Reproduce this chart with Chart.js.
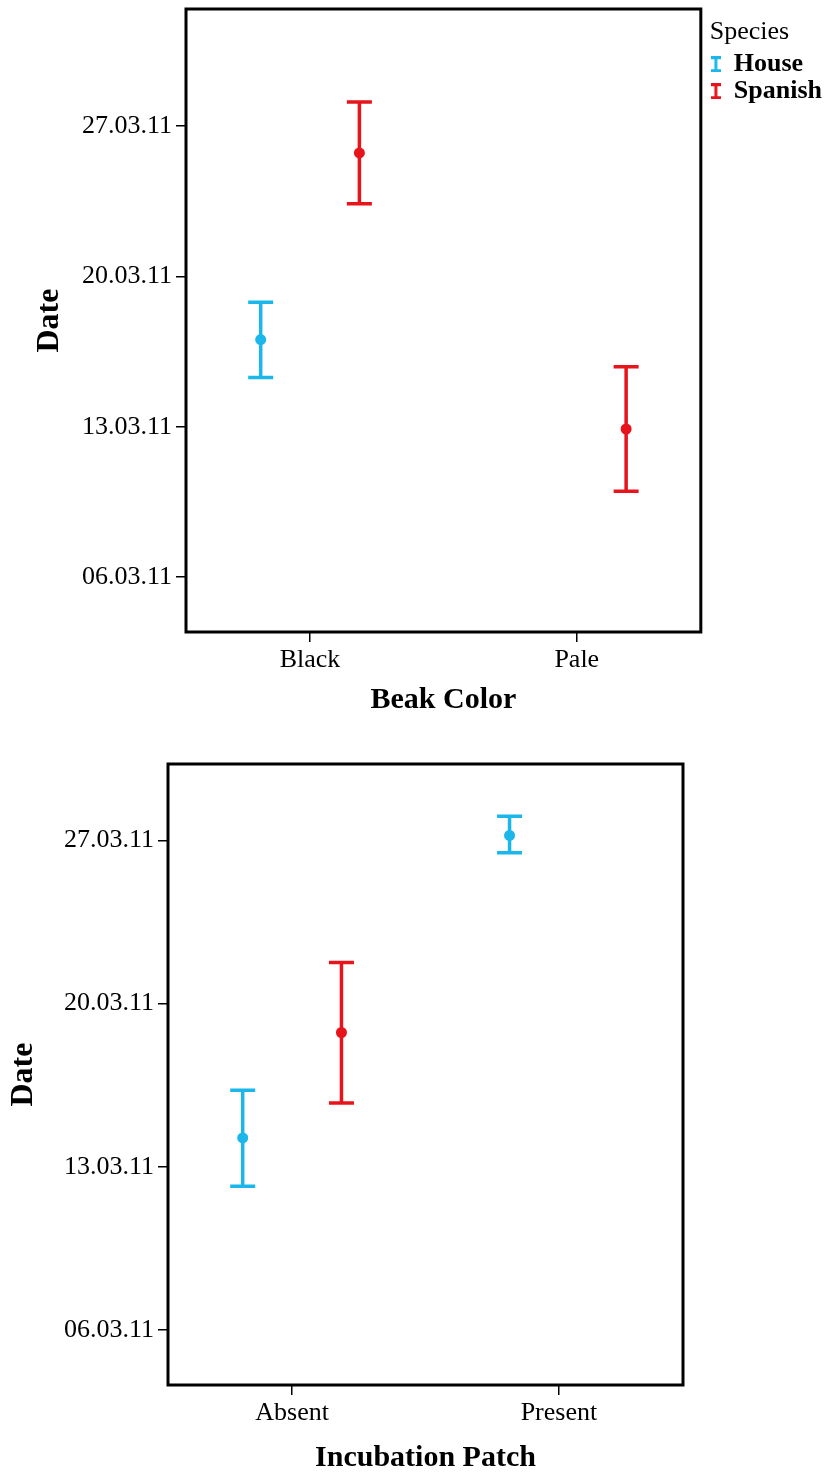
<!DOCTYPE html>
<html>
<head>
<meta charset="utf-8">
<script src="https://cdn.jsdelivr.net/npm/chart.js@4.4.0/dist/chart.umd.min.js"></script>
<style>
  body { margin: 0; background: #fff; }
  .panel { position: absolute; left: 0; }
</style>
</head>
<body>
<div class="panel" style="top:0px"><canvas id="beak" width="830" height="720"></canvas></div>
<div class="panel" style="top:740px"><canvas id="patch" width="830" height="737"></canvas></div>
<script>
// dates are kept as day of March 2011
const dateTicks = [6, 13, 20, 27];
const dateLabels = ['06.03.11', '13.03.11', '20.03.11', '27.03.11'];
const species = ['House', 'Spanish'];

const beakColors = ['Black', 'Pale'];
const houseBeakMean = [17.06, null];
const houseBeakLow = [15.3, null];
const houseBeakHigh = [18.8, null];
const spanishBeakMean = [25.75, 12.9];
const spanishBeakLow = [23.38, 10.0];
const spanishBeakHigh = [28.12, 15.8];

const patchStates = ['Absent', 'Present'];
const housePatchMean = [14.24, 27.21];
const housePatchLow = [12.17, 26.47];
const housePatchHigh = [16.28, 28.03];
const spanishPatchMean = [18.76, null];
const spanishPatchLow = [15.74, null];
const spanishPatchHigh = [21.76, null];

const HOUSE = '#1bb7ea';
const SPANISH = '#e8141c';
const DODGE = 0.185;
const serif = 'Liberation Serif';

function points(mean, low, high, shift) {
  const out = [];
  mean.forEach((m, i) => {
    if (m !== null) out.push({ x: i + shift, y: m, lo: low[i], hi: high[i] });
  });
  return out;
}

// whisker lines drawn through the chart scales
const errorBars = {
  id: 'errorBars',
  beforeDatasetsDraw(chart) {
    const { ctx, scales: { x, y } } = chart;
    chart.data.datasets.forEach(ds => {
      ctx.save();
      ctx.strokeStyle = ds.borderColor;
      ctx.lineWidth = 3.5;
      ds.data.forEach(p => {
        const px = x.getPixelForValue(p.x);
        const top = y.getPixelForValue(p.hi);
        const bot = y.getPixelForValue(p.lo);
        ctx.beginPath();
        ctx.moveTo(px, top); ctx.lineTo(px, bot);
        ctx.moveTo(px - 12.5, top); ctx.lineTo(px + 12.5, top);
        ctx.moveTo(px - 12.5, bot); ctx.lineTo(px + 12.5, bot);
        ctx.stroke();
      });
      ctx.restore();
    });
  }
};

const frame = {
  id: 'frame',
  afterDatasetsDraw(chart) {
    const { ctx, chartArea: a } = chart;
    ctx.save();
    ctx.strokeStyle = '#000';
    ctx.lineWidth = 3;
    ctx.strokeRect(a.left, a.top, a.right - a.left, a.bottom - a.top);
    ctx.restore();
  }
};

// leave a small gap between the plot box and the legend
const legendGap = {
  id: 'legendGap',
  afterLayout(chart) {
    const lg = chart.legend;
    if (!lg || !chart.options.plugins.legend.display) return;
    const w = lg.right - lg.left;
    lg.left = chart.chartArea.right + 9;
    lg.right = lg.left + w;
  }
};

function barIcon(color) {
  const c = document.createElement('canvas');
  c.width = 10; c.height = 16;
  const g = c.getContext('2d');
  g.strokeStyle = color;
  g.lineWidth = 3;
  g.beginPath();
  g.moveTo(0, 1.5); g.lineTo(10, 1.5);
  g.moveTo(5, 1.5); g.lineTo(5, 14.5);
  g.moveTo(0, 14.5); g.lineTo(10, 14.5);
  g.stroke();
  return c;
}

function makeChart(id, cats, house, spanish, xTitle, cfg) {
  const tickFont = { family: serif, size: 26 };
  return new Chart(document.getElementById(id), {
    type: 'scatter',
    data: {
      datasets: [
        { label: species[0], data: house, borderColor: HOUSE, backgroundColor: HOUSE, pointRadius: 5.5, pointBorderWidth: 0 },
        { label: species[1], data: spanish, borderColor: SPANISH, backgroundColor: SPANISH, pointRadius: 5.5, pointBorderWidth: 0 }
      ]
    },
    options: {
      responsive: false,
      animation: false,
      layout: { padding: cfg.padding },
      scales: {
        x: {
          type: 'linear',
          min: -0.465,
          max: 1.465,
          afterBuildTicks: s => { s.ticks = cats.map((c, i) => ({ value: i })); },
          afterFit: s => { s.height = cfg.xHeight; },
          ticks: { callback: v => cats[v], color: '#000', font: tickFont, padding: 3 },
          grid: { drawOnChartArea: false, drawTicks: true, tickLength: 10, color: '#000', lineWidth: 1.5 },
          border: { display: false },
          title: { display: true, text: xTitle, color: '#000', font: { family: serif, size: 30, weight: 'bold' }, padding: { top: 0, bottom: cfg.xTitlePad } }
        },
        y: {
          min: cfg.yMin,
          max: cfg.yMax,
          afterBuildTicks: s => { s.ticks = dateTicks.map(v => ({ value: v })); },
          afterFit: s => { s.width = cfg.yWidth; s.paddingTop = 0; s.paddingBottom = 0; },
          ticks: { callback: v => dateLabels[dateTicks.indexOf(v)], color: '#000', font: tickFont, padding: 4 },
          grid: { drawOnChartArea: false, drawTicks: true, tickLength: 10, color: '#000', lineWidth: 1.5 },
          border: { display: false },
          title: { display: true, text: 'Date', color: '#000', font: { family: serif, size: 32, weight: 'bold' }, padding: { top: cfg.yTitlePad, bottom: 0 } }
        }
      },
      plugins: {
        tooltip: { enabled: false },
        legend: {
          display: cfg.legend,
          position: 'right',
          align: 'start',
          title: { display: true, text: 'Species', color: '#000', position: 'start', font: { family: serif, size: 26 }, padding: { top: 10, bottom: 0 } },
          labels: {
            color: '#000',
            font: { family: serif, size: 26, weight: 'bold' },
            boxWidth: 10,
            padding: 1,
            usePointStyle: true,
            generateLabels: chart => Chart.defaults.plugins.legend.labels.generateLabels(chart)
              .map((item, i) => Object.assign(item, { pointStyle: barIcon(i === 0 ? HOUSE : SPANISH) }))
          }
        }
      }
    },
    plugins: [errorBars, frame, legendGap]
  });
}

makeChart('beak', beakColors,
  points(houseBeakMean, houseBeakLow, houseBeakHigh, -DODGE),
  points(spanishBeakMean, spanishBeakLow, spanishBeakHigh, DODGE),
  'Beak Color',
  { padding: { top: 9, right: 7, left: 0, bottom: 0 }, xHeight: 88, yWidth: 186, xTitlePad: 2, yTitlePad: 31, yMin: 3.45, yMax: 32.45, legend: true });

makeChart('patch', patchStates,
  points(housePatchMean, housePatchLow, housePatchHigh, -DODGE),
  points(spanishPatchMean, spanishPatchLow, spanishPatchHigh, DODGE),
  'Incubation Patch',
  { padding: { top: 24, right: 147, left: 0, bottom: 0 }, xHeight: 92, yWidth: 168, xTitlePad: 1, yTitlePad: 5, yMin: 3.65, yMax: 30.27, legend: false });
</script>
</body>
</html>
